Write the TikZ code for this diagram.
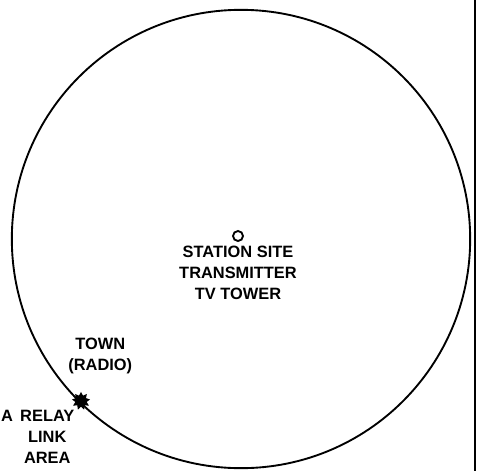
\documentclass[tikz,border=0pt]{standalone}
\usepackage{fontspec}
\setmainfont{Liberation Sans}
\usetikzlibrary{shapes.geometric,positioning}

\begin{document}
\begin{tikzpicture}[
  x=0.03cm, y=-0.03cm,
  every node/.style={font=\bfseries\fontsize{14}{18}\selectfont, inner sep=0pt},
  lbl/.style={align=center},
  site/.style={circle, draw, line width=1.6pt, minimum size=0.3cm, fill=white},
  tower/.style={star, star points=9, star point ratio=1.6, fill=black, minimum size=0.55cm}
]
\useasboundingbox (0,0) rectangle (479,471);
% coverage circle
\node[circle, draw, line width=1.6pt, minimum size=13.75cm] (area) at (241,239) {};
\draw[line width=2pt] (475,0) -- (475,471);
% centre
\node[site] (hq) at (238,236) {};
\node[lbl, below=3pt of hq] (hqlbl) {STATION SITE\\TRANSMITTER\\TV TOWER};
% tower on the rim
\node[tower] (tx) at (81,401) {};
\node[lbl, above right=18pt and -16pt of tx] (txlbl) {TOWN\\(RADIO)};
\node[lbl, anchor=north west] (farlbl) at (20,410) {RELAY\\LINK\\AREA};
\node[anchor=north west] (edge) at (1,410) {A};
\end{tikzpicture}
\end{document}
